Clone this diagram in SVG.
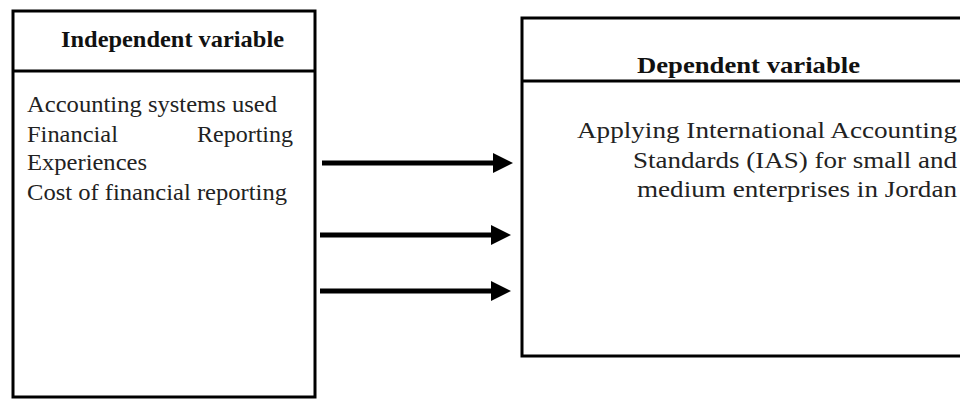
<svg xmlns="http://www.w3.org/2000/svg" width="960" height="401" viewBox="0 0 960 401">
<style>
.box{fill:#fff;stroke:#000;stroke-width:3}
.div{stroke:#000;stroke-width:3}
.hd{font-family:"Liberation Serif","Times New Roman",serif;font-weight:bold;font-size:23px;fill:#111}
.tx{font-family:"Liberation Serif","Times New Roman",serif;font-size:24px;fill:#222}
.conn{stroke:#000;stroke-width:5}
</style>
<defs>
<marker id="ah" markerUnits="userSpaceOnUse" markerWidth="20" markerHeight="20" refX="0" refY="10" orient="auto" viewBox="0 0 20 20">
<path d="M0,0 L20,10 L0,20 Z" fill="#000"/>
</marker>
</defs>
<rect width="960" height="401" fill="#fff"/>
<g id="independent">
<rect class="box" x="13" y="11" width="302" height="386"/>
<line class="div" x1="13" y1="71" x2="315" y2="71"/>
<text class="hd" x="61" y="47" textLength="223" lengthAdjust="spacingAndGlyphs">Independent variable</text>
<text class="tx" x="27" y="112" textLength="250" lengthAdjust="spacingAndGlyphs">Accounting systems used</text>
<text class="tx" x="27" y="142" textLength="91" lengthAdjust="spacingAndGlyphs">Financial</text>
<text class="tx" x="197" y="142" textLength="96" lengthAdjust="spacingAndGlyphs">Reporting</text>
<text class="tx" x="27" y="170" textLength="120" lengthAdjust="spacingAndGlyphs">Experiences</text>
<text class="tx" x="27" y="200" textLength="260" lengthAdjust="spacingAndGlyphs">Cost of financial reporting</text>
</g>
<g id="dependent">
<rect class="box" x="522" y="18" width="450" height="338"/>
<line class="div" x1="522" y1="81" x2="972" y2="81"/>
<text class="hd" x="637" y="73" textLength="223" lengthAdjust="spacingAndGlyphs">Dependent variable</text>
<text class="tx" x="577" y="138" textLength="380" lengthAdjust="spacingAndGlyphs">Applying International Accounting</text>
<text class="tx" x="633" y="168" textLength="324" lengthAdjust="spacingAndGlyphs">Standards (IAS) for small and</text>
<text class="tx" x="637" y="197" textLength="320" lengthAdjust="spacingAndGlyphs">medium enterprises in Jordan</text>
</g>
<g id="connectors">
<line class="conn" x1="322" y1="163" x2="493" y2="163" marker-end="url(#ah)"/>
<line class="conn" x1="320" y1="235" x2="491" y2="235" marker-end="url(#ah)"/>
<line class="conn" x1="320" y1="291" x2="491" y2="291" marker-end="url(#ah)"/>
</g>
</svg>
